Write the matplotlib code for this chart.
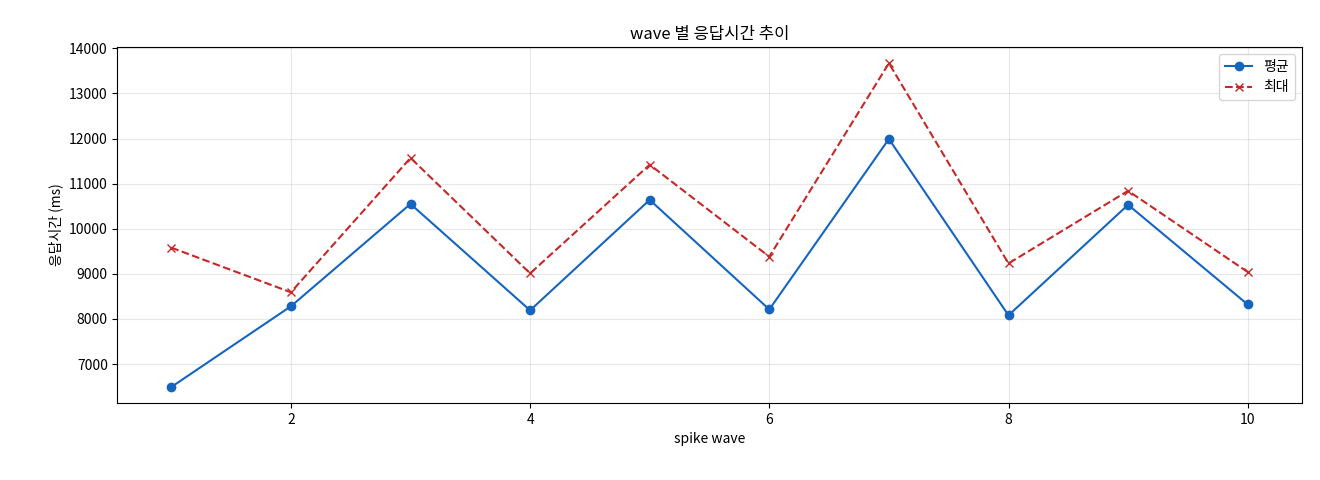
import matplotlib
matplotlib.use("Agg")
import matplotlib.pyplot as plt

plt.rcParams['font.family'] = ['Noto Sans CJK KR', 'DejaVu Sans']

waves = [1, 2, 3, 4, 5, 6, 7, 8, 9, 10]
avg = [6490, 8280, 10550, 8190, 10640, 8210, 11990, 8080, 10530, 8320]
mx = [9580, 8590, 11570, 9010, 11420, 9380, 13670, 9230, 10840, 9040]

fig, ax = plt.subplots(figsize=(13.2, 4.8), dpi=100)
fig.subplots_adjust(left=0.089, right=0.986, top=0.902, bottom=0.16)
ax.plot(waves, avg, '-o', color='#1565C0', label='평균', markersize=6)
ax.plot(waves, mx, '--x', color='#C62828', label='최대', markersize=6)
ax.set_title('wave 별 응답시간 추이')
ax.set_xlabel('spike wave')
ax.set_ylabel('응답시간 (ms)')
ax.grid(True, alpha=0.3)
ax.legend(loc='upper right')
fig.savefig('out.png')
